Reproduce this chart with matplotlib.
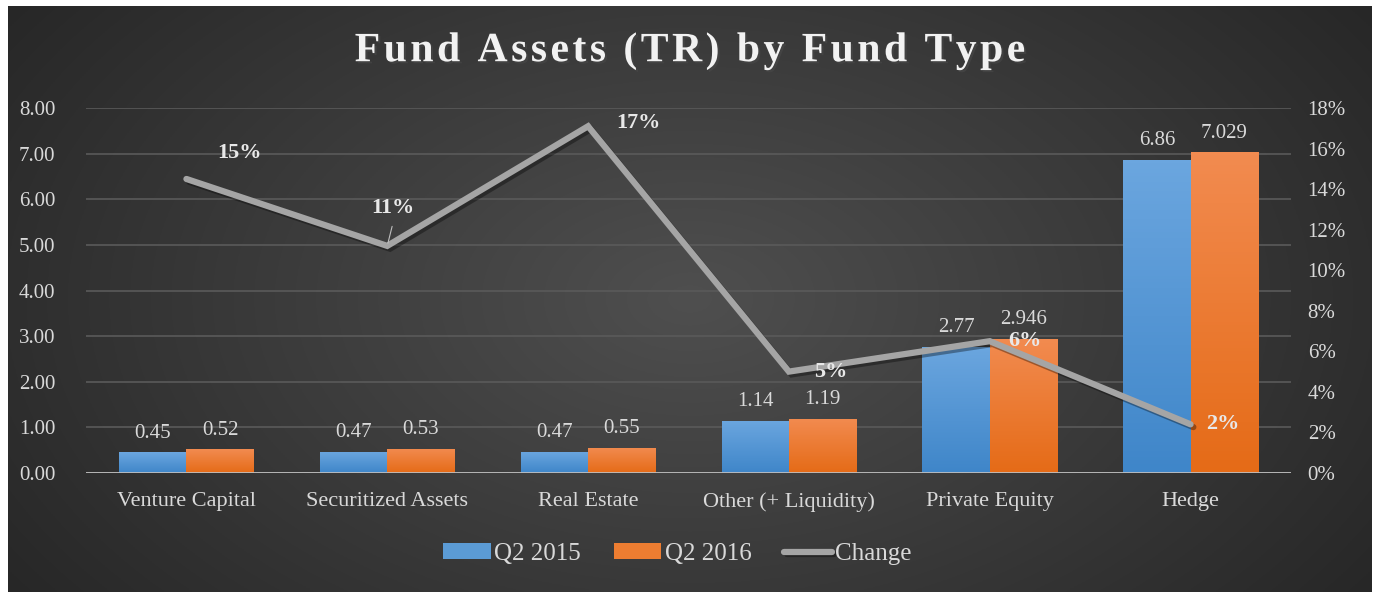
import numpy as np
import matplotlib
matplotlib.use("Agg")
import matplotlib.pyplot as plt
import matplotlib.patheffects as pe

# Datos
categories = ["Venture Capital", "Securitized Assets", "Real Estate",
              "Other (+ Liquidity)", "Private Equity", "Hedge"]
q2_2015 = [0.45, 0.47, 0.47, 1.14, 2.77, 6.86]
q2_2016 = [0.52, 0.53, 0.55, 1.19, 2.946, 7.029]
change = [0.145, 0.112, 0.171, 0.050, 0.065, 0.024]
change_labels = ["15%", "11%", "17%", "5%", "6%", "2%"]
title = "Fund Assets (TR) by Fund Type"

plt.rcParams["font.family"] = ["Liberation Serif", "DejaVu Serif"]
txt = "#d9d9d9"

fig = plt.figure(figsize=(13.74, 5.92), dpi=100, facecolor="white")

# Fondo con degradado radial
bg = fig.add_axes([8 / 1374, 0, 1364 / 1374, 586 / 592], zorder=-10)
yy, xx = np.mgrid[0:1:300j, 0:1:700j]
d = np.sqrt(((xx - 0.5) / 0.62) ** 2 + ((yy - 0.5) / 0.9) ** 2)
g = np.clip(0.31 - 0.16 * d, 0.14, 0.31)
bg.imshow(np.dstack([g, g, g]), aspect="auto", extent=[0, 1, 0, 1])
bg.set_axis_off()

ax = fig.add_axes([86 / 1374, 1 - 473 / 592, (1291 - 86) / 1374, (473 - 108) / 592])
ax.patch.set_visible(False)
x = np.arange(len(categories))
w = 0.335

b1 = ax.bar(x - w / 2, q2_2015, w, color="#5b9bd5", label="Q2 2015", zorder=3)
b2 = ax.bar(x + w / 2, q2_2016, w, color="#ed7d31", label="Q2 2016", zorder=3)


def shade(bars, top, bottom):
    top = np.array(matplotlib.colors.to_rgb(top))
    bottom = np.array(matplotlib.colors.to_rgb(bottom))
    t = np.linspace(0, 1, 100)[:, None]
    grad = (top * (1 - t) + bottom * t)[:, None, :]
    for r in bars:
        im = ax.imshow(grad, aspect="auto", zorder=4,
                       extent=[r.get_x(), r.get_x() + r.get_width(), 0, r.get_height()])
        im.set_clip_path(r)


shade(b1, "#6ba6df", "#3f86c9")
shade(b2, "#f28b50", "#e56b17")

ax.bar_label(b1, labels=[f"{v:g}" for v in q2_2015], padding=7, color=txt, fontsize=15, zorder=5)
ax.bar_label(b2, labels=[f"{v:g}" for v in q2_2016], padding=7, color=txt, fontsize=15, zorder=5)

ax.set_xlim(-0.5, len(categories) - 0.5)
ax.set_ylim(0, 8)
ax.set_yticks(np.arange(0, 8.01, 1))
ax.yaxis.set_major_formatter(matplotlib.ticker.FormatStrFormatter("%.2f"))
ax.set_xticks(x)
ax.set_xticklabels(categories)
ax.grid(axis="y", color="#5a5a5a", linewidth=1.2, zorder=0)
ax.tick_params(length=0, colors=txt, labelsize=15)
ax.tick_params(axis="x", pad=14, labelsize=16)
ax.tick_params(axis="y", pad=22)
for s in ax.spines.values():
    s.set_visible(False)
ax.axhline(0, color="#bfbfbf", linewidth=2, zorder=6)

# Eje secundario: cambio
ax2 = ax.twinx()
ax2.set_ylim(0, 0.18)
ax2.set_yticks(np.arange(0, 0.181, 0.02))
ax2.yaxis.set_major_formatter(matplotlib.ticker.PercentFormatter(1.0, decimals=0))
ax2.tick_params(length=0, colors=txt, labelsize=15, pad=12)
for s in ax2.spines.values():
    s.set_visible(False)
ln, = ax2.plot(x, change, color="#a5a5a5", linewidth=4.5, solid_capstyle="round",
               solid_joinstyle="miter", label="Change", zorder=7,
               path_effects=[pe.SimpleLineShadow(offset=(2, -2), alpha=0.35), pe.Normal()])

offsets = [(38, 19), (4, 27), (36, 2), (30, 0), (25, 0), (23, 0)]
for i, (lab, off) in enumerate(zip(change_labels, offsets)):
    ax2.annotate(lab, (x[i], change[i]), xytext=off, textcoords="offset points",
                 ha="center", va="center", fontsize=16, fontweight="bold", color="#e8e8e8",
                 zorder=8)
ax2.annotate("", (x[1], change[1]), xytext=(4, 16), textcoords="offset points",
             arrowprops=dict(arrowstyle="-", color="#bfbfbf", lw=0.8), zorder=8)

fig.text(0.502, 1 - 51 / 592, "\u200a".join(title), ha="center", va="center",
         fontsize=30, fontweight="bold", color="#f2f2f2",
         path_effects=[pe.SimplePatchShadow(offset=(1.5, -1.5), alpha=0.6), pe.Normal()])

fig.legend(handles=[b1, b2, ln], loc="center", bbox_to_anchor=(0.493, 1 - 554 / 592),
           ncol=3, frameon=False, fontsize=18, labelcolor=txt, handlelength=1.9,
           handleheight=0.6, handletextpad=0.15, columnspacing=1.3)

fig.savefig("out.png", dpi=100, facecolor="white")
